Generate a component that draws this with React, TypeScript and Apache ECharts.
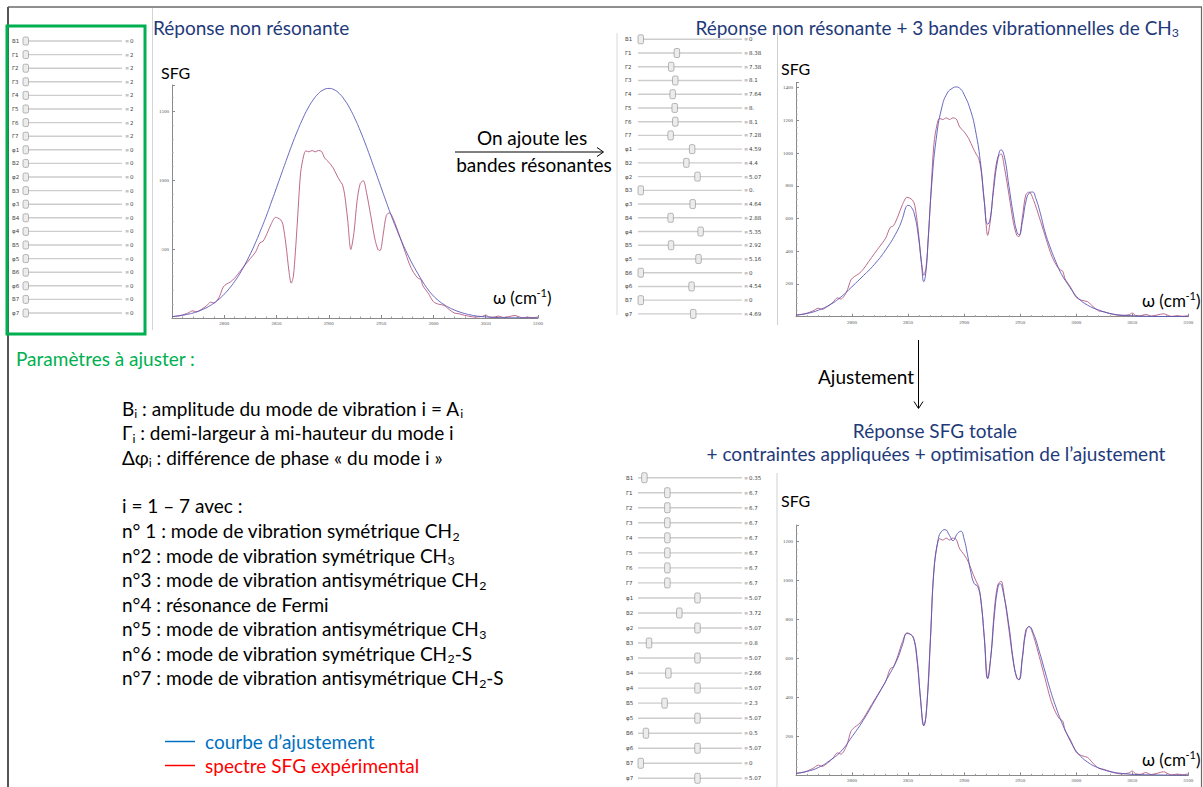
import React, { useEffect, useRef } from 'react';
import * as echarts from 'echarts';

// ---------- DATA ----------
const xMin = 2750;
const xMax = 3100;

// experimental SFG spectrum (same in the three plots)
const expSpectrum: [number, number][] = [
  [2750, 10], [2755, 14], [2760, 22], [2765, 35], [2770, 52], [2773, 45], [2778, 62], [2783, 88], [2787, 115], [2790, 108],
  [2795, 150], [2799, 225], [2802, 245], [2806, 262], [2810, 290], [2815, 338], [2820, 386], [2825, 432], [2830, 480], [2834, 545],
  [2837, 556], [2841, 615], [2845, 685], [2849, 730], [2851, 726], [2854, 712], [2856, 680], [2859, 530], [2862, 330], [2864, 253],
  [2866, 300], [2868, 480], [2870, 711], [2873, 1053], [2876, 1180], [2878, 1212], [2881, 1205], [2884, 1215], [2887, 1205], [2890, 1215],
  [2893, 1208], [2896, 1160], [2900, 1130], [2904, 1090], [2908, 1030], [2911, 990], [2913, 967], [2915, 900], [2918, 711], [2921, 497],
  [2924, 620], [2927, 850], [2930, 975], [2933, 995], [2936, 910], [2940, 745], [2944, 574], [2947, 497], [2949, 489], [2952, 609],
  [2955, 745], [2958, 762], [2962, 711], [2967, 609], [2972, 500], [2977, 392], [2981, 330], [2985, 290], [2988, 278], [2990, 232],
  [2995, 180], [3000, 118], [3005, 100], [3010, 92], [3015, 62], [3020, 36], [3025, 30], [3030, 19], [3040, 7], [3047, 12],
  [3050, 22], [3053, 8], [3057, 5], [3062, 14], [3067, 4], [3072, 10], [3078, 18], [3082, 8], [3085, 2], [3090, 6],
  [3095, 3], [3100, 7],
];

// fit: non resonant response only
const fitNonResonant: [number, number][] = [
  [2750, 10], [2755, 14], [2760, 20], [2765, 27], [2770, 36], [2775, 48], [2780, 64], [2785, 83], [2790, 108], [2795, 137],
  [2800, 173], [2805, 216], [2810, 266], [2815, 324], [2820, 391], [2825, 466], [2830, 549], [2835, 640], [2840, 736], [2845, 840],
  [2850, 946], [2855, 1053], [2860, 1159], [2865, 1262], [2870, 1358], [2875, 1445], [2880, 1521], [2885, 1582], [2890, 1628], [2895, 1656],
  [2900, 1665], [2905, 1656], [2910, 1628], [2915, 1582], [2920, 1521], [2925, 1445], [2930, 1358], [2935, 1262], [2940, 1159], [2945, 1053],
  [2950, 946], [2955, 840], [2960, 736], [2965, 640], [2970, 549], [2975, 466], [2980, 391], [2985, 324], [2990, 260], [2995, 205],
  [3000, 160], [3005, 125], [3010, 98], [3015, 76], [3020, 58], [3025, 44], [3030, 32], [3035, 23], [3040, 16], [3045, 11],
  [3050, 8], [3060, 4], [3070, 2], [3080, 1], [3100, 0],
];

// fit: non resonant + 3 CH3 bands
const fitThreeBands: [number, number][] = [
  [2750, 10], [2760, 20], [2770, 40], [2780, 72], [2790, 120], [2800, 184], [2810, 250], [2820, 320], [2830, 408], [2840, 520],
  [2845, 600], [2848, 668], [2850, 680], [2853, 668], [2856, 615], [2859, 500], [2862, 320], [2864, 214], [2866, 280], [2868, 480],
  [2871, 800], [2875, 1082], [2880, 1276], [2885, 1367], [2890, 1398], [2893, 1404], [2897, 1390], [2900, 1357], [2905, 1276], [2910, 1143],
  [2915, 918], [2918, 700], [2921, 565], [2923, 590], [2926, 760], [2930, 959], [2933, 1020], [2936, 975], [2940, 796], [2944, 620],
  [2947, 520], [2949, 500], [2952, 580], [2955, 700], [2958, 755], [2961, 762], [2964, 722], [2968, 632], [2972, 522], [2977, 420],
  [2982, 333], [2987, 258], [2992, 204], [2997, 153], [3002, 112], [3010, 71], [3020, 41], [3030, 20], [3040, 10], [3050, 6],
  [3060, 3], [3080, 1], [3100, 0],
];

// fit: total SFG response with constraints
const fitTotal: [number, number][] = [
  [2750, 10], [2760, 20], [2770, 40], [2780, 75], [2790, 122], [2800, 198], [2810, 282], [2820, 380], [2830, 482], [2840, 590],
  [2845, 668], [2849, 726], [2852, 722], [2855, 700], [2858, 600], [2861, 400], [2864, 255], [2867, 380], [2870, 700], [2873, 1040],
  [2877, 1212], [2880, 1250], [2883, 1258], [2887, 1228], [2890, 1202], [2894, 1238], [2897, 1250], [2900, 1210], [2903, 1130], [2906, 1040],
  [2909, 982], [2912, 968], [2915, 890], [2918, 700], [2921, 495], [2924, 615], [2927, 820], [2930, 958], [2932, 982], [2935, 935],
  [2940, 765], [2944, 585], [2947, 502], [2949, 490], [2952, 600], [2955, 728], [2958, 762], [2962, 725], [2967, 636], [2972, 535],
  [2977, 435], [2982, 348], [2987, 272], [2992, 208], [2997, 152], [3002, 110], [3010, 68], [3020, 38], [3030, 20], [3040, 10],
  [3050, 5], [3070, 2], [3100, 0],
];

// slider parameters
const paramLabels = ['B1', 'Γ1', 'Γ2', 'Γ3', 'Γ4', 'Γ5', 'Γ6', 'Γ7', 'φ1', 'B2', 'φ2', 'B3', 'φ3', 'B4', 'φ4', 'B5', 'φ5', 'B6', 'φ6', 'B7', 'φ7'];
const valuesNonResonant = ['0', '2', '2', '2', '2', '2', '2', '2', '0', '0', '0', '0', '0', '0', '0', '0', '0', '0', '0', '0', '0'];
const valuesThreeBands = ['0', '8.38', '7.38', '8.1', '7.64', '8.', '8.1', '7.28', '4.59', '4.4', '5.07', '0.', '4.64', '2.88', '5.35', '2.92', '5.16', '0', '4.54', '0', '4.69'];
const valuesTotal = ['0.35', '6.7', '6.7', '6.7', '6.7', '6.7', '6.7', '6.7', '5.07', '3.72', '5.07', '0.8', '5.07', '2.66', '5.07', '2.3', '5.07', '0.5', '5.07', '0', '5.07'];
const sliderRange: Record<string, [number, number]> = { B: [0, 9.5], 'Γ': [2, 19.4], 'φ': [0, 8.8] };

// ---------- STYLE ----------
const FONT = 'Lato, "Open Sans", sans-serif';
const NAVY = '#1f3a7a';
const FIT_COLOR = '#5656b8';
const EXP_COLOR = '#b65a80';
const TXT = 19;

function richText(x: number, y: number, text: string, size: number, fill: string, align = 'left') {
  return {
    type: 'text',
    x, y,
    style: {
      text,
      fill,
      fontSize: size,
      fontFamily: FONT,
      lineHeight: size + 4,
      align, textAlign: align,
      verticalAlign: 'middle', textVerticalAlign: 'middle',
      rich: {
        sub: { fontSize: size * 0.65, fontFamily: FONT, fill, lineHeight: size * 0.65, verticalAlign: 'bottom' },
        sup: { fontSize: size * 0.65, fontFamily: FONT, fill, lineHeight: size * 0.65, verticalAlign: 'top' },
      },
    },
  };
}

function smallText(x: number, y: number, text: string, fill: string, size = 5.5) {
  return {
    type: 'text', x, y,
    style: { text, fill, fontSize: size, fontFamily: '"DejaVu Sans", sans-serif', align: 'left', textAlign: 'left', verticalAlign: 'middle', textVerticalAlign: 'middle' },
  };
}

function line(x1: number, y1: number, x2: number, y2: number, stroke: string, lineWidth = 1) {
  return { type: 'line', shape: { x1, y1, x2, y2 }, style: { stroke, lineWidth } };
}

interface PanelGeo { labelX: number; x0: number; x1: number; valX: number; y0: number; step: number; tw: number; th: number; }

function sliderPanel(values: string[], g: PanelGeo) {
  const els: any[] = [];
  paramLabels.forEach((label, i) => {
    const y = g.y0 + i * g.step;
    const [lo, hi] = sliderRange[label[0]];
    const v = parseFloat(values[i]);
    const frac = Math.min(1, Math.max(0, (v - lo) / (hi - lo)));
    const cx = g.x0 + g.tw / 2 + frac * (g.x1 - g.x0 - g.tw);
    els.push(smallText(g.labelX, y, label, '#444'));
    els.push(line(g.x0, y, g.x1, y, '#cdcdcd', 1.4));
    els.push({
      type: 'rect',
      shape: { x: cx - g.tw / 2, y: y - g.th / 2, width: g.tw, height: g.th, r: 1.5 },
      style: { fill: '#ececec', stroke: '#8a8a8a', lineWidth: 0.6 },
    });
    els.push(smallText(g.valX, y, '≡', '#9a9a9a', 5));
    els.push(smallText(g.valX + 5, y, values[i], '#444'));
  });
  return els;
}

const plainNumber = (v: number) => String(v);

function axesFor(gridIndex: number, yMax: number, yInterval: number) {
  const axisLine = { show: true, onZero: false, lineStyle: { color: '#8a8a8a', width: 1 } };
  const axisTick = { show: true, inside: true, length: 3, lineStyle: { color: '#8a8a8a' } };
  const minorTick = { show: true, splitNumber: 5, length: 1.5, lineStyle: { color: '#a0a0a0' } };
  return {
    x: {
      type: 'value', gridIndex, min: xMin, max: xMax, interval: 50,
      axisLine, axisTick, minorTick, splitLine: { show: false },
      axisLabel: { fontSize: 5, color: '#555', margin: 3, showMinLabel: false, fontFamily: 'serif', formatter: plainNumber },
    },
    y: {
      type: 'value', gridIndex, min: 0, max: yMax, interval: yInterval,
      axisLine, axisTick, minorTick, splitLine: { show: false },
      axisLabel: { fontSize: 5, color: '#555', margin: 3, showMinLabel: false, showMaxLabel: false, fontFamily: 'serif', formatter: plainNumber },
    },
  };
}

function buildOption() {
  const a0 = axesFor(0, 1690, 500);
  const a1 = axesFor(1, 1430, 200);
  const a2 = axesFor(2, 1282, 200);

  const lineSeries = (data: [number, number][], idx: number, color: string, smooth: number) => ({
    type: 'line', xAxisIndex: idx, yAxisIndex: idx, data, showSymbol: false, smooth,
    lineStyle: { color, width: 1, opacity: 0.9 }, silent: true,
  });

  const graphic: any[] = [
    // frame
    line(8, 7, 1202, 7, '#6a6a6a', 1.5),
    line(8, 7, 8, 787, '#555', 2),
    line(1201.5, 7, 1201.5, 787, '#6a6a6a', 1.2),
    // screenshot borders
    line(152.5, 8, 152.5, 330, '#d4d4d4', 1),
    line(617, 33, 617, 315, '#d8d8d8', 1),
    line(777.5, 33, 777.5, 325, '#d0d0d0', 1),
    line(777, 473, 777, 787, '#d0d0d0', 1),
    // green box
    { type: 'rect', shape: { x: 7, y: 26, width: 138, height: 308 }, style: { fill: 'none', stroke: '#00b050', lineWidth: 3 } },
    ...sliderPanel(valuesNonResonant, { labelX: 12, x0: 23, x1: 122, valX: 125, y0: 41, step: 13.6, tw: 5.5, th: 8 }),
    ...sliderPanel(valuesThreeBands, { labelX: 625, x0: 638, x1: 742, valX: 744, y0: 39.3, step: 13.73, tw: 5.5, th: 9 }),
    ...sliderPanel(valuesTotal, { labelX: 626, x0: 638, x1: 742, valX: 744, y0: 477.7, step: 15.03, tw: 5.5, th: 10 }),
    // titles
    richText(153, 27, 'Réponse non résonante', TXT, NAVY),
    richText(1179, 27, 'Réponse non résonante + 3 bandes vibrationnelles de CH{sub|3}', TXT, NAVY, 'right'),
    richText(935, 430, 'Réponse SFG totale', TXT, NAVY, 'center'),
    richText(936, 453, '+ contraintes appliquées + optimisation de l’ajustement', TXT, NAVY, 'center'),
    // axis names
    richText(161, 72, 'SFG', 16, '#000'),
    richText(781, 68, 'SFG', 16, '#000'),
    richText(781, 500, 'SFG', 16, '#000'),
    richText(493, 297, 'ω (cm{sup|-1})', 17, '#000'),
    richText(1142, 300, 'ω (cm{sup|-1})', 17, '#000'),
    richText(1142, 759, 'ω (cm{sup|-1})', 17, '#000'),
    // horizontal arrow
    richText(532, 137, 'On ajoute les', TXT, '#000', 'center'),
    richText(534, 164, 'bandes résonantes', TXT, '#000', 'center'),
    line(455, 152, 603, 152, '#000', 1),
    { type: 'polyline', shape: { points: [[597, 147.5], [603.5, 152], [597, 156.5]] }, style: { stroke: '#000', lineWidth: 1, fill: 'none' } },
    // vertical arrow
    richText(914, 376, 'Ajustement', TXT, '#000', 'right'),
    line(918.5, 340, 918.5, 408, '#000', 1),
    { type: 'polyline', shape: { points: [[914, 401.5], [918.5, 408.5], [923, 401.5]] }, style: { stroke: '#000', lineWidth: 1, fill: 'none' } },
    // parameter text block
    richText(16, 358, 'Paramètres à ajuster :', TXT, '#00b050'),
    richText(122, 408, 'B{sub|i} : amplitude du mode de vibration i = A{sub|i}', TXT, '#000'),
    richText(122, 432.5, 'Γ{sub|i} : demi-largeur à mi-hauteur du mode i', TXT, '#000'),
    richText(122, 457, 'Δφ{sub|i} : différence de phase « du mode i »', TXT, '#000'),
    richText(122, 505.5, 'i = 1 – 7 avec :', TXT, '#000'),
    richText(122, 530.5, 'n° 1 : mode de vibration symétrique CH{sub|2}', TXT, '#000'),
    richText(122, 555, 'n°2 : mode de vibration symétrique CH{sub|3}', TXT, '#000'),
    richText(122, 579.5, 'n°3 : mode de vibration antisymétrique CH{sub|2}', TXT, '#000'),
    richText(122, 604, 'n°4 : résonance de Fermi', TXT, '#000'),
    richText(122, 628.5, 'n°5 : mode de vibration antisymétrique CH{sub|3}', TXT, '#000'),
    richText(122, 653, 'n°6 : mode de vibration symétrique CH{sub|2}-S', TXT, '#000'),
    richText(122, 677.5, 'n°7 : mode de vibration antisymétrique CH{sub|2}-S', TXT, '#000'),
    // legend
    line(165, 741.5, 195, 741.5, '#0070c0', 1.5),
    richText(205, 741, 'courbe d’ajustement', TXT, '#0070c0'),
    line(165, 765.5, 195, 765.5, '#ff0000', 1.5),
    richText(205, 765, 'spectre SFG expérimental', TXT, '#ff0000'),
  ];

  return {
    animation: false,
    backgroundColor: '#ffffff',
    grid: [
      { left: 172, top: 85, width: 366, height: 233, outerBoundsMode: 'none' },
      { left: 796, top: 82.7, width: 392.3, height: 234, outerBoundsMode: 'none' },
      { left: 796, top: 525, width: 392.3, height: 250.3, outerBoundsMode: 'none' },
    ],
    xAxis: [a0.x, a1.x, a2.x],
    yAxis: [a0.y, a1.y, a2.y],
    series: [
      lineSeries(expSpectrum, 0, EXP_COLOR, 0.3),
      lineSeries(fitNonResonant, 0, FIT_COLOR, 0.5),
      lineSeries(expSpectrum, 1, EXP_COLOR, 0.3),
      lineSeries(fitThreeBands, 1, FIT_COLOR, 0.5),
      lineSeries(expSpectrum, 2, EXP_COLOR, 0.3),
      lineSeries(fitTotal, 2, FIT_COLOR, 0.5),
    ],
    graphic: { elements: graphic },
  };
}

export default function App() {
  const ref = useRef<HTMLDivElement>(null);
  useEffect(() => {
    document.body.style.margin = '0';
    const chart = echarts.init(ref.current as HTMLDivElement, null, { renderer: 'svg' });
    chart.setOption(buildOption() as any);
    return () => chart.dispose();
  }, []);
  return (
    <div
      ref={ref}
      style={{ position: 'absolute', left: 0, top: 0, width: 1203, height: 787, background: '#fff' }}
    />
  );
}
